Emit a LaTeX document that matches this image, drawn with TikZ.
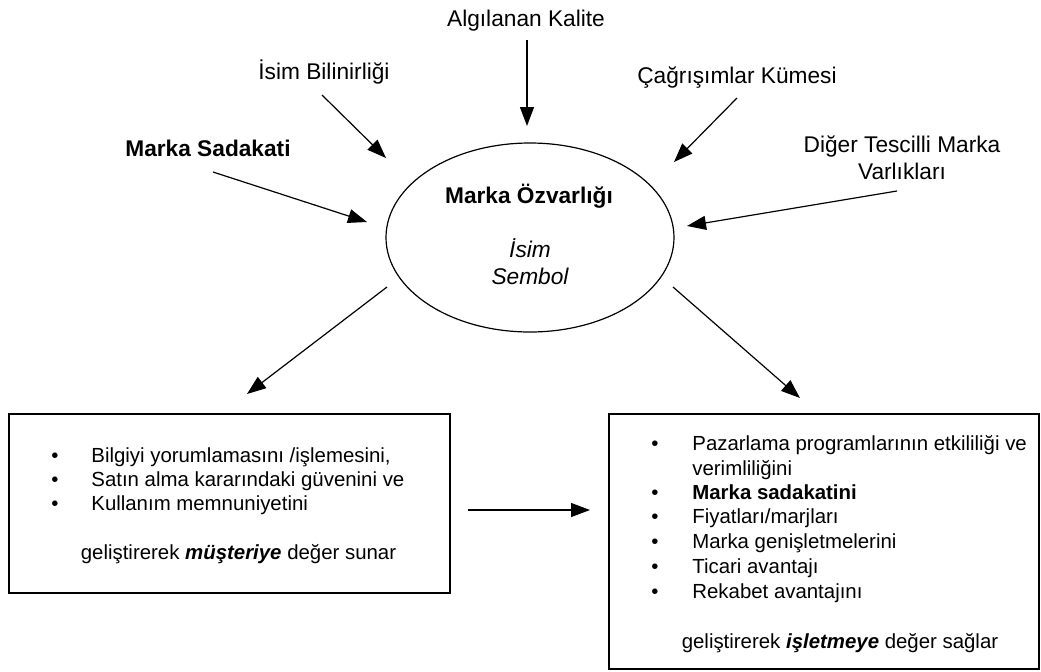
\documentclass[tikz,border=0pt]{standalone}
\usepackage{fontspec}
\setmainfont{Liberation Sans}
\usetikzlibrary{arrows.meta,shapes.geometric}

\tikzset{
  lbl/.style={font=\fontsize{11.35}{13.6}\selectfont, inner sep=0pt, anchor=base},
  boxtxt/.style={lbl, font=\fontsize{10.2}{12.2}\selectfont},
  item/.style={boxtxt, anchor=base west},
  arr/.style={-{Triangle[length=9.5pt,width=7pt]}, line width=0.6pt},
  box/.style={draw, line width=1pt, inner sep=0pt},
}

\begin{document}
\begin{tikzpicture}[x=0.5pt, y=-0.5pt]
  \useasboundingbox (0,0) rectangle (1041,671);
  \node (ozv) [draw, ellipse, line width=0.6pt, inner sep=0pt, minimum width=144pt, minimum height=94.5pt] at (530,237.5) {};
  \node (ozvbaslik) [lbl] at (529,203) {\bfseries Marka Özvarlığı};
  \node (isim) [lbl] at (530,257) {\itshape İsim};
  \node (sembol) [lbl] at (530,284) {\itshape Sembol};

  \node (kalite) [lbl] at (526,26) {Algılanan Kalite};
  \node (bilinir) [lbl] at (324,79.5) {İsim Bilinirliği};
  \node (sadakat) [lbl] at (208,156) {\bfseries Marka Sadakati};
  \node (cagrisim) [lbl] at (737,83) {Çağrışımlar Kümesi};
  \node (diger) [lbl] at (902,152) {Diğer Tescilli Marka};
  \node (varlik) [lbl] at (902,179) {Varlıkları};

  \coordinate (kaliteA) at (527,40);   \coordinate (kaliteB) at (527,126);
  \coordinate (bilinirA) at (322,95);  \coordinate (bilinirB) at (386,158);
  \coordinate (sadakatA) at (213,172); \coordinate (sadakatB) at (367,222);
  \coordinate (cagrisimA) at (737,98); \coordinate (cagrisimB) at (674,162);
  \coordinate (digerA) at (897,191);   \coordinate (digerB) at (687,226);
  \coordinate (musteriA) at (387,287); \coordinate (musteriB) at (247,394);
  \coordinate (isletmeA) at (673,287); \coordinate (isletmeB) at (800,398);
  \coordinate (yatayA) at (468,510);   \coordinate (yatayB) at (590,510);

  \draw[arr] (kaliteA) -- (kaliteB);
  \draw[arr] (bilinirA) -- (bilinirB);
  \draw[arr] (sadakatA) -- (sadakatB);
  \draw[arr] (cagrisimA) -- (cagrisimB);
  \draw[arr] (digerA) -- (digerB);
  \draw[arr] (musteriA) -- (musteriB);
  \draw[arr] (isletmeA) -- (isletmeB);
  \draw[arr] (yatayA) -- (yatayB);

  % musteri kutusu
  \node (musteri) [box, minimum width=220.5pt, minimum height=89.5pt] at (229.5,503.5) {};
  \node (m1b) [boxtxt] at (55,462) {•};
  \node (m1) [item] at (91,462) {Bilgiyi yorumlamasını /işlemesini,};
  \node (m2b) [boxtxt] at (55,486) {•};
  \node (m2) [item] at (91,486) {Satın alma kararındaki güvenini ve};
  \node (m3b) [boxtxt] at (55,510) {•};
  \node (m3) [item] at (91,510) {Kullanım memnuniyetini};
  \node (msonuc) [boxtxt] at (238.5,559) {geliştirerek \textbf{\textit{müşteriye}} değer sunar};

  % isletme kutusu
  \node (isletme) [box, minimum width=215pt, minimum height=127.5pt] at (824,541.5) {};
  \node (i1b) [boxtxt] at (655,450) {•};
  \node (i1) [item] at (692,450) {Pazarlama programlarının etkililiği ve};
  \node (i1c) [item] at (692,475) {verimliliğini};
  \node (i2b) [boxtxt] at (655,499) {•};
  \node (i2) [item] at (692,499) {\bfseries Marka sadakatini};
  \node (i3b) [boxtxt] at (655,523) {•};
  \node (i3) [item] at (692,523) {Fiyatları/marjları};
  \node (i4b) [boxtxt] at (655,548) {•};
  \node (i4) [item] at (692,548) {Marka genişletmelerini};
  \node (i5b) [boxtxt] at (655,573) {•};
  \node (i5) [item] at (692,573) {Ticari avantajı};
  \node (i6b) [boxtxt] at (655,598) {•};
  \node (i6) [item] at (692,598) {Rekabet avantajını};
  \node (isonuc) [boxtxt] at (840,648) {geliştirerek \textbf{\textit{işletmeye}} değer sağlar};
\end{tikzpicture}
\end{document}
